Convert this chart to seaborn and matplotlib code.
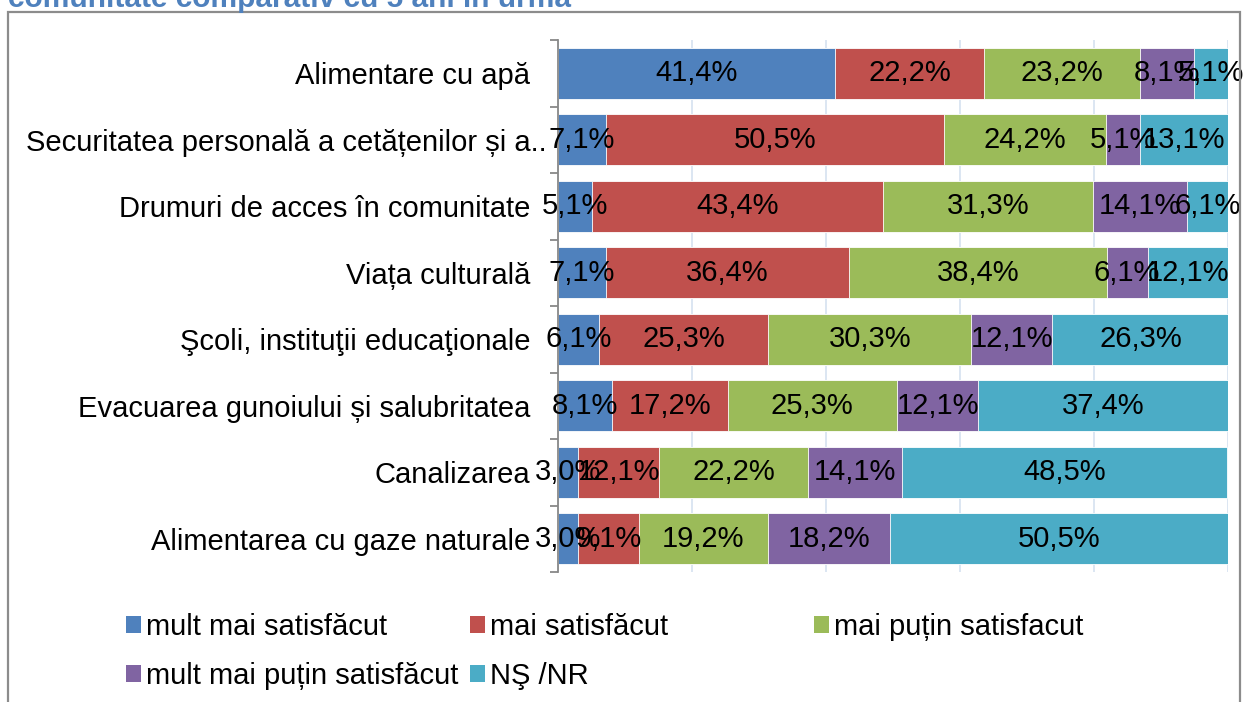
import matplotlib.pyplot as plt
import seaborn as sns
import pandas as pd
import numpy as np
from matplotlib.patches import Patch, Rectangle
from matplotlib.transforms import ScaledTranslation

# categories (top to bottom)
categorii = [
    "Alimentare cu apă",
    "Securitatea personală a cetățenilor și a..",
    "Drumuri de acces în comunitate",
    "Viața culturală",
    "Şcoli, instituţii educaţionale",
    "Evacuarea gunoiului și salubritatea",
    "Canalizarea",
    "Alimentarea cu gaze naturale",
]
serii = ["mult mai satisfăcut", "mai satisfăcut", "mai puțin satisfacut",
         "mult mai puțin satisfăcut", "NŞ /NR"]

mult_mai_satisfacut = [41.4, 7.1, 5.1, 7.1, 6.1, 8.1, 3.0, 3.0]
mai_satisfacut = [22.2, 50.5, 43.4, 36.4, 25.3, 17.2, 12.1, 9.1]
mai_putin_satisfacut = [23.2, 24.2, 31.3, 38.4, 30.3, 25.3, 22.2, 19.2]
mult_mai_putin = [8.1, 5.1, 14.1, 6.1, 12.1, 12.1, 14.1, 18.2]
ns_nr = [5.1, 13.1, 6.1, 12.1, 26.3, 37.4, 48.5, 50.5]

culori = ["#4F81BD", "#C0504D", "#9BBB59", "#8064A2", "#4BACC6"]

data = pd.DataFrame({
    "categorie": categorii,
    serii[0]: mult_mai_satisfacut,
    serii[1]: mai_satisfacut,
    serii[2]: mai_putin_satisfacut,
    serii[3]: mult_mai_putin,
    serii[4]: ns_nr,
})
cum = data[serii].cumsum(axis=1)

sns.set_theme(style="white")
plt.rcParams["font.family"] = ["Liberation Sans", "DejaVu Sans"]
plt.rcParams["text.color"] = "black"

fig = plt.figure(figsize=(12.46, 7.02), dpi=100)
ax = fig.add_axes([558 / 1246, 1 - 572 / 702, 670 / 1246, 532 / 702])

# stacked bars: draw cumulative totals from largest to smallest
for s, c in reversed(list(zip(serii, culori))):
    sns.barplot(x=cum[s], y=data["categorie"], color=c, saturation=1,
                orient="h", width=0.77, ax=ax, zorder=2,
                edgecolor="white", linewidth=0.6)

for i in range(len(categorii)):
    for s in serii:
        v = data[s][i]
        centru = cum[s][i] - v / 2
        ax.text(centru, i, f"{v:.1f}%".replace(".", ","), ha="center",
                va="center", fontsize=21, color="black", zorder=5)

ax.set_xlim(0, 100)
ax.set_ylim(len(categorii) - 0.5, -0.5)
ax.set_xticks(np.arange(0, 101, 20))
ax.set_xticklabels([])
ax.xaxis.grid(True, color="#D5E1F0", linewidth=1.2, zorder=0)
ax.set_axisbelow(True)
ax.set_xlabel("")
ax.set_ylabel("")
ax.tick_params(axis="x", length=0)
ax.tick_params(axis="y", which="major", length=0, pad=20, labelsize=21,
               labelcolor="black")
ax.set_yticks(np.arange(-0.5, len(categorii), 1), minor=True)
ax.tick_params(axis="y", which="minor", length=6, width=1.3, color="#888888",
               direction="out", left=True)
for side in ["top", "right", "bottom"]:
    ax.spines[side].set_visible(False)
ax.spines["left"].set_color("#888888")
ax.spines["left"].set_linewidth(1.3)

# the long truncated label hangs a bit over the bars, as in the original
eticheta = ax.get_yticklabels()[1]
eticheta.set_transform(eticheta.get_transform() +
                       ScaledTranslation(16 / 100, 0, fig.dpi_scale_trans))

# legend in three columns of equal width
handles = [Patch(facecolor=c, edgecolor="none") for c in culori]
coloane = [([0, 3], 126), ([1, 4], 470), ([2], 814)]
for idx, xpx in coloane:
    fig.legend([handles[k] for k in idx], [serii[k] for k in idx],
               loc="upper left", bbox_to_anchor=(xpx / 1246, 1 - 613 / 702),
               frameon=False, fontsize=21, handlelength=0.5,
               handleheight=0.5, handletextpad=0.2, borderpad=0,
               borderaxespad=0, labelspacing=0.72, labelcolor="black")

# outer frame and cut-off title
fig.patches.append(Rectangle((8 / 1246, -0.05), 1232 / 1246, 1.05 - 12 / 702,
                             transform=fig.transFigure, fill=False,
                             edgecolor="#8C8C8C", linewidth=1.6))
fig.text(8 / 1246, 1 - 7 / 702, "comunitate comparativ cu 5 ani în urmă",
         fontsize=21.5, fontweight="bold", color="#4F81BD", ha="left",
         va="baseline")

fig.savefig("out.png", dpi=100)
